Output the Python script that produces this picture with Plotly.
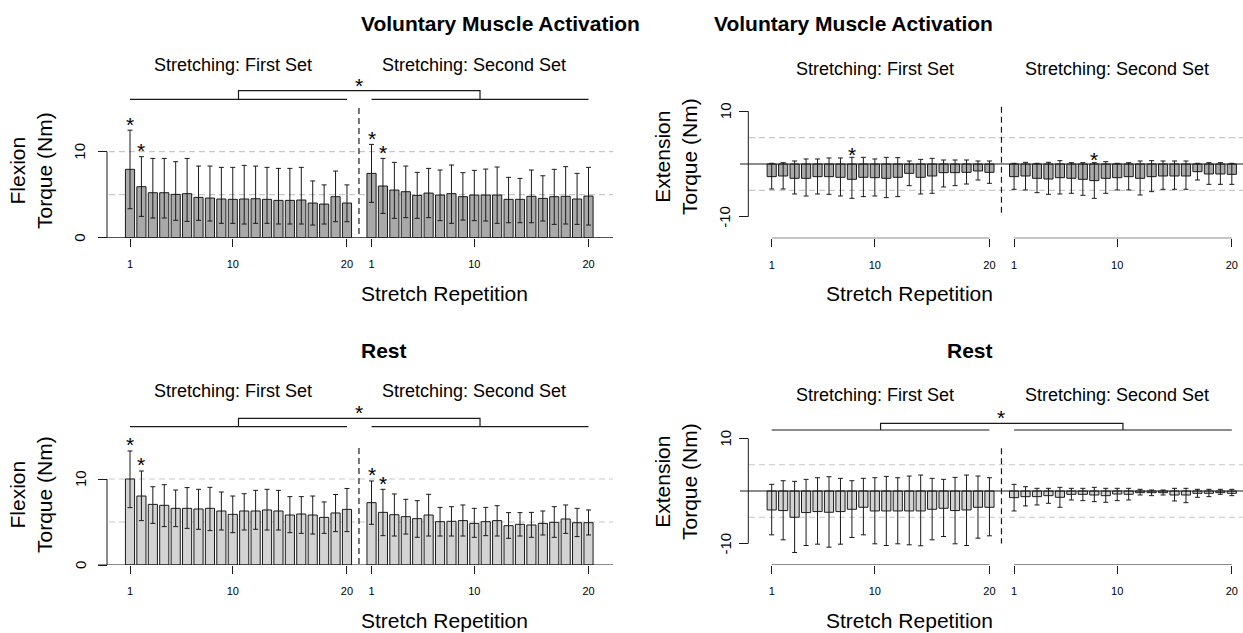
import plotly.graph_objects as go

W, H = 1243, 633
FONT = "Liberation Sans, Arial, sans-serif"

# ---------------------------------------------------------------- data
reps = list(range(1, 21))
SET2_SHIFT = 21.15                       # gap between the two stretching sets
x_set1 = [r for r in reps]
x_set2 = [r + SET2_SHIFT for r in reps]
x_tick_vals = [1, 10, 20, 1 + SET2_SHIFT, 10 + SET2_SHIFT, 20 + SET2_SHIFT]
x_tick_text = ["1", "10", "20", "1", "10", "20"]

# Voluntary muscle activation, flexion torque (Nm): mean, whisker top, whisker bottom
vma_flex_s1_mean = [7.95, 5.93, 5.23, 5.23, 5.04, 5.12, 4.69, 4.61, 4.50, 4.46,
                    4.50, 4.53, 4.46, 4.34, 4.34, 4.38, 4.03, 3.91, 4.77, 4.03]
vma_flex_s1_hi = [12.5, 9.42, 9.22, 9.22, 8.84, 9.22, 8.33, 8.33, 8.18, 8.18,
                  8.41, 8.33, 8.18, 8.06, 8.06, 8.18, 6.60, 6.14, 7.75, 6.14]
vma_flex_s1_lo = [3.37, 2.48, 2.29, 2.29, 2.02, 1.90, 2.02, 1.94, 1.67, 1.67,
                  1.59, 1.67, 1.67, 1.59, 1.59, 1.59, 1.47, 1.59, 1.86, 1.86]
vma_flex_s2_mean = [7.48, 6.01, 5.54, 5.35, 4.92, 5.19, 4.96, 5.12, 4.77, 4.96,
                    4.96, 4.96, 4.46, 4.46, 4.81, 4.57, 4.77, 4.81, 4.50, 4.84]
vma_flex_s2_hi = [10.85, 9.22, 8.76, 8.33, 7.60, 8.06, 7.87, 8.45, 7.56, 7.83,
                  7.98, 8.22, 7.02, 6.90, 7.87, 7.20, 7.95, 8.26, 7.48, 8.18]
vma_flex_s2_lo = [4.11, 2.83, 2.25, 2.33, 2.25, 2.33, 1.98, 1.67, 2.05, 1.98,
                  1.94, 1.67, 1.74, 1.74, 1.74, 1.94, 1.55, 1.59, 1.55, 1.47]

# Voluntary muscle activation, extension torque (Nm)
vma_ext_s1_mean = [-2.40, -2.27, -2.71, -2.71, -2.40, -2.40, -2.52, -2.90, -2.52, -2.59,
                   -2.71, -2.52, -1.77, -2.52, -2.27, -1.64, -1.64, -1.58, -1.32, -1.58]
vma_ext_s1_hi = [0.13, 0.25, 0.57, 0.95, 0.95, 1.14, 1.14, 1.26, 1.26, 0.95,
                 1.26, 1.20, 0.57, 0.88, 1.07, 0.76, 0.76, 0.76, 0.57, 0.57]
vma_ext_s1_lo = [-4.73, -4.73, -5.68, -6.06, -5.68, -5.74, -6.06, -6.50, -6.18, -6.06,
                 -6.37, -6.18, -4.10, -5.68, -5.55, -4.35, -4.10, -3.79, -3.03, -3.66]
vma_ext_s2_mean = [-2.40, -2.27, -2.71, -2.84, -2.59, -2.71, -2.90, -3.15, -2.71, -2.59,
                   -2.40, -2.71, -2.40, -2.27, -2.27, -2.27, -1.45, -1.89, -1.89, -1.96]
vma_ext_s2_hi = [0.13, 0.32, 0.13, 0.32, 0.63, 0.25, 0.25, 0.25, 0.44, 0.13,
                 0.25, 0.57, 0.63, 0.57, 0.57, 0.57, 0.13, 0.25, 0.25, 0.13]
vma_ext_s2_lo = [-4.79, -4.92, -5.43, -5.74, -5.68, -5.55, -5.93, -6.50, -5.55, -4.92,
                 -4.92, -5.87, -5.24, -4.79, -4.79, -4.79, -3.03, -3.85, -3.85, -3.85]

# Rest, flexion torque (Nm)
rest_flex_s1_mean = [10.0, 8.02, 7.05, 6.94, 6.59, 6.59, 6.51, 6.59, 6.28, 5.89,
                     6.28, 6.28, 6.40, 6.28, 5.81, 5.93, 5.81, 5.54, 6.05, 6.47]
rest_flex_s1_hi = [13.26, 10.93, 9.10, 9.34, 8.72, 9.00, 8.80, 9.03, 8.49, 8.02,
                   8.29, 8.68, 8.80, 8.68, 7.95, 7.95, 8.02, 7.33, 8.20, 8.90]
rest_flex_s1_lo = [6.67, 5.16, 4.84, 4.46, 4.46, 4.26, 4.15, 4.00, 4.07, 3.76,
                   4.07, 4.15, 4.07, 4.07, 3.76, 3.68, 3.60, 3.68, 3.88, 3.88]
rest_flex_s2_mean = [7.25, 6.12, 5.85, 5.62, 5.39, 5.81, 5.04, 5.08, 5.16, 4.84,
                     5.04, 5.16, 4.57, 4.73, 4.65, 4.84, 4.96, 5.35, 4.92, 4.92]
rest_flex_s2_hi = [9.77, 8.80, 8.26, 7.64, 7.48, 8.22, 6.70, 6.78, 6.98, 6.59,
                   6.70, 6.90, 6.09, 6.09, 6.12, 6.28, 6.78, 6.98, 6.59, 6.40]
rest_flex_s2_lo = [4.73, 3.41, 3.37, 3.60, 3.22, 3.37, 3.37, 3.37, 3.37, 3.22,
                   3.41, 3.37, 3.10, 3.37, 3.22, 3.49, 3.22, 3.68, 3.30, 3.49]

# Rest, extension torque (Nm)
rest_ext_s1_mean = [-3.61, -3.73, -5.00, -4.11, -3.92, -4.05, -3.92, -3.48, -3.10, -3.80,
                    -3.80, -3.80, -3.80, -3.80, -3.48, -3.29, -3.73, -3.61, -3.10, -3.10]
rest_ext_s1_hi = [1.27, 1.96, 1.84, 2.22, 2.53, 2.72, 2.41, 1.96, 2.41, 2.53,
                  2.78, 2.53, 2.85, 3.04, 2.41, 2.22, 2.59, 3.04, 2.85, 2.53]
rest_ext_s1_lo = [-8.35, -9.30, -11.71, -10.38, -10.13, -10.70, -10.13, -8.86, -8.35, -10.06,
                  -10.38, -10.06, -10.25, -10.44, -9.30, -8.67, -10.06, -10.38, -8.99, -8.54]
rest_ext_s2_mean = [-1.27, -1.08, -1.08, -0.89, -1.20, -0.63, -0.63, -0.76, -0.89, -0.57,
                    -0.63, -0.32, -0.32, -0.32, -0.76, -0.76, -0.44, -0.44, -0.32, -0.44]
rest_ext_s2_hi = [1.27, 0.82, 0.51, 0.51, 0.70, 0.51, 0.51, 0.70, 0.51, 0.51,
                  0.51, 0.32, 0.19, 0.19, 0.51, 0.51, 0.32, 0.32, 0.32, 0.32]
rest_ext_s2_lo = [-3.80, -2.85, -2.66, -2.34, -3.10, -1.71, -1.84, -2.03, -2.15, -1.84,
                  -1.71, -0.76, -0.89, -0.76, -1.90, -2.22, -1.20, -1.08, -0.63, -0.89]

# Repetitions flagged as significant (1-based, per set)
vma_flex_stars = ([1, 2], [1, 2])
vma_ext_stars = ([8], [8])
rest_flex_stars = ([1, 2], [1, 2])
rest_ext_stars = ([], [])

y_ticks_flex = [0, 10]
y_ticks_ext = [-10, 10]
y_grid_flex = [5, 10]
y_grid_ext = [-5, 5]

# ---------------------------------------------------------------- styling / geometry (pixels)
DARK_BAR = "#a9a9a9"
LIGHT_BAR = "#d3d3d3"
INK = "#1a1a1a"
GRID = "#c8c8c8"
STAR_GAP = 0.95        # star sits this far (torque units) above its whisker

panels = [
    dict(col=0, row=0, title="Voluntary Muscle Activation", ylab="Flexion<br>Torque (Nm)",
         sets=((vma_flex_s1_mean, vma_flex_s1_hi, vma_flex_s1_lo), (vma_flex_s2_mean, vma_flex_s2_hi, vma_flex_s2_lo)),
         stars=vma_flex_stars, color=DARK_BAR, kind="flex", bracket=True),
    dict(col=1, row=0, title="Voluntary Muscle Activation", ylab="Extension<br>Torque (Nm)",
         sets=((vma_ext_s1_mean, vma_ext_s1_hi, vma_ext_s1_lo), (vma_ext_s2_mean, vma_ext_s2_hi, vma_ext_s2_lo)),
         stars=vma_ext_stars, color=DARK_BAR, kind="ext", bracket=False),
    dict(col=0, row=1, title="Rest", ylab="Flexion<br>Torque (Nm)",
         sets=((rest_flex_s1_mean, rest_flex_s1_hi, rest_flex_s1_lo), (rest_flex_s2_mean, rest_flex_s2_hi, rest_flex_s2_lo)),
         stars=rest_flex_stars, color=LIGHT_BAR, kind="flex", bracket=True),
    dict(col=1, row=1, title="Rest", ylab="Extension<br>Torque (Nm)",
         sets=((rest_ext_s1_mean, rest_ext_s1_hi, rest_ext_s1_lo), (rest_ext_s2_mean, rest_ext_s2_hi, rest_ext_s2_lo)),
         stars=rest_ext_stars, color=LIGHT_BAR, kind="ext", bracket=True),
]

# horizontal geometry per column
COLS = [
    dict(p0=130.0, step=11.42, yaxis_px=107.0, dom=(92.0, 615.0), base_from=98.0, grid_from=109.0,
         right=613.0, title_x=359.0, ylab_x=31.0, ytick_x=80.0),
    dict(p0=771.7, step=11.46, yaxis_px=748.3, dom=(735.0, 1243.0), base_from=740.0, grid_from=749.0,
         right=1243.0, title_x=995.0, ylab_x=676.0, ytick_x=725.0),
]
# vertical geometry per (row, kind): zero pixel, px per unit, axis pixel, domain top
ROWS = {
    (0, "flex"): dict(z0=237.7, k=8.6, axis=237.7, top=72.0),
    (0, "ext"): dict(z0=164.0, k=5.28, axis=238.3, top=72.0),
    (1, "flex"): dict(z0=565.0, k=8.6, axis=565.0, top=398.0),
    (1, "ext"): dict(z0=491.0, k=5.25, axis=565.0, top=398.0),
}
ROW_TEXT = [
    dict(title_y=23.0, sub_y=(65.0, 69.0), xlab_y=293.0, ylab_y=(171.0, 157.0),
         br_lo=(99.3, 99.3), br_hi=(90.7, 90.7), br_star=(83.5, 83.5), div_top=(108.0, 106.7)),
    dict(title_y=350.0, sub_y=(391.0, 395.0), xlab_y=620.0, ylab_y=(495.0, 482.0),
         br_lo=(426.7, 430.0), br_hi=(418.3, 423.3), br_star=(410.5, 415.0), div_top=(448.0, 448.3)),
]

fig = go.Figure()
shapes, annotations = [], []


def px_x(pix):
    return pix / W


def px_y(pix):
    return 1 - pix / H


def star(xref, yref, x, y):
    return dict(xref=xref, yref=yref, x=x, y=y, text="*", showarrow=False,
                yanchor="middle", yshift=-2, font=dict(family=FONT, size=21, color="black"))


for i, p in enumerate(panels):
    c = COLS[p["col"]]
    r = ROWS[(p["row"], p["kind"])]
    t = ROW_TEXT[p["row"]]
    ci = p["col"]
    n = i + 1
    sfx = str(n) if n > 1 else ""
    xa, ya = "x" + sfx, "y" + sfx

    def dx(pix, c=c):
        return 1 + (pix - c["p0"]) / c["step"]

    def dy(pix, r=r):
        return (r["z0"] - pix) / r["k"]

    xr = [dx(c["dom"][0]), dx(c["dom"][1])]
    yr = [dy(r["axis"]), dy(r["top"])]

    for s, (mean, hi, lo) in enumerate(p["sets"]):
        xs = x_set1 if s == 0 else x_set2
        fig.add_trace(go.Bar(
            x=xs, y=mean, width=0.8, xaxis=xa, yaxis=ya,
            marker=dict(color=p["color"], line=dict(color=INK, width=1)),
            error_y=dict(type="data", symmetric=False,
                         array=[h - m for h, m in zip(hi, mean)],
                         arrayminus=[m - l for m, l in zip(mean, lo)],
                         color=INK, thickness=1, width=2.5),
            showlegend=False, hoverinfo="skip",
        ))
        for rep in p["stars"][s]:
            annotations.append(star(xa, ya, xs[rep - 1], hi[rep - 1] + STAR_GAP))

    # dashed reference lines
    grid_vals = y_grid_flex if p["kind"] == "flex" else y_grid_ext
    for g in grid_vals:
        shapes.append(dict(type="line", xref=xa, yref=ya, x0=dx(c["grid_from"]), x1=dx(c["right"]),
                           y0=g, y1=g, line=dict(color=GRID, width=1.2, dash="6px,4px"), layer="below"))
    # zero line
    shapes.append(dict(type="line", xref=xa, yref=ya, x0=dx(c["base_from"]), x1=dx(c["right"]),
                       y0=0, y1=0, line=dict(color=INK, width=1.2)))
    # y axis line between the end ticks, with rotated labels
    yt = y_ticks_flex if p["kind"] == "flex" else y_ticks_ext
    shapes.append(dict(type="line", xref=xa, yref=ya, x0=dx(c["yaxis_px"]), x1=dx(c["yaxis_px"]),
                       y0=yt[0], y1=yt[-1], line=dict(color=INK, width=1)))
    for v in yt:
        annotations.append(dict(xref="paper", yref=ya, x=px_x(c["ytick_x"]), y=v, text=str(v),
                                showarrow=False, textangle=-90, xanchor="center", yanchor="middle",
                                font=dict(family=FONT, size=15, color="black")))
    # separate x axis lines for each set on extension panels
    if p["kind"] == "ext":
        for xs in (x_set1, x_set2):
            shapes.append(dict(type="line", xref=xa, yref=ya, x0=xs[0], x1=xs[-1],
                               y0=dy(r["axis"]), y1=dy(r["axis"]), line=dict(color=INK, width=1.2)))
    # divider between the two sets
    div_x = 21.05
    div_bot = r["axis"] if p["kind"] == "flex" else r["z0"] + 10 * r["k"]
    shapes.append(dict(type="line", xref=xa, yref=ya, x0=div_x, x1=div_x,
                       y0=dy(t["div_top"][ci]), y1=dy(div_bot),
                       line=dict(color=INK, width=1.2, dash="6px,4px")))
    # bracket comparing the two sets
    if p["bracket"]:
        lo_y, hi_y = dy(t["br_lo"][ci]), dy(t["br_hi"][ci])
        for xs in (x_set1, x_set2):
            shapes.append(dict(type="line", xref=xa, yref=ya, x0=xs[0], x1=xs[-1],
                               y0=lo_y, y1=lo_y, line=dict(color=INK, width=1.2)))
        m1 = (x_set1[0] + x_set1[-1]) / 2
        m2 = (x_set2[0] + x_set2[-1]) / 2
        shapes.append(dict(type="path", xref=xa, yref=ya,
                           path=f"M {m1},{lo_y} L {m1},{hi_y} L {m2},{hi_y} L {m2},{lo_y}",
                           line=dict(color=INK, width=1.2)))
        annotations.append(star(xa, ya, div_x, dy(t["br_star"][ci])))

    # set labels centred on repetition 10 of each set
    for xs, label in ((x_set1, "Stretching: First Set"), (x_set2, "Stretching: Second Set")):
        annotations.append(dict(xref=xa, yref="paper", x=xs[9], y=px_y(t["sub_y"][ci]), text=label,
                                showarrow=False, yanchor="middle",
                                font=dict(family=FONT, size=18, color="black")))

    # panel title and axis titles
    annotations.append(dict(xref="paper", yref="paper", x=px_x(c["title_x"]), y=px_y(t["title_y"]),
                            text=f"<b>{p['title']}</b>", showarrow=False, yanchor="middle",
                            font=dict(family=FONT, size=21, color="black")))
    annotations.append(dict(xref="paper", yref="paper", x=px_x(c["title_x"]), y=px_y(t["xlab_y"]),
                            text="Stretch Repetition", showarrow=False, yanchor="middle",
                            font=dict(family=FONT, size=21, color="black")))
    annotations.append(dict(xref="paper", yref="paper", x=px_x(c["ylab_x"]), y=px_y(t["ylab_y"][ci]),
                            text=p["ylab"], showarrow=False, textangle=-90, yanchor="middle",
                            xanchor="center", font=dict(family=FONT, size=21, color="black")))

    fig.update_layout(**{
        "xaxis" + sfx: dict(domain=[px_x(c["dom"][0]), px_x(c["dom"][1])], range=xr, anchor=ya,
                            showgrid=False, zeroline=False, showline=False,
                            tickvals=x_tick_vals, ticktext=x_tick_text, ticks="outside", ticklen=8,
                            tickwidth=1, tickcolor=INK, ticklabelstandoff=8,
                            tickfont=dict(family=FONT, size=11, color="black")),
        "yaxis" + sfx: dict(domain=[px_y(r["axis"]), px_y(r["top"])], range=yr, anchor="free",
                            position=px_x(c["yaxis_px"]),
                            showgrid=False, zeroline=False, showline=False,
                            tickvals=yt, ticks="outside", ticklen=9, tickwidth=1, tickcolor=INK,
                            showticklabels=False),
    })

fig.update_layout(
    width=W, height=H, margin=dict(l=0, r=0, t=0, b=0),
    paper_bgcolor="white", plot_bgcolor="rgba(0,0,0,0)",
    barmode="overlay", shapes=shapes, annotations=annotations,
    showlegend=False,
)

fig.write_html("out.html")
